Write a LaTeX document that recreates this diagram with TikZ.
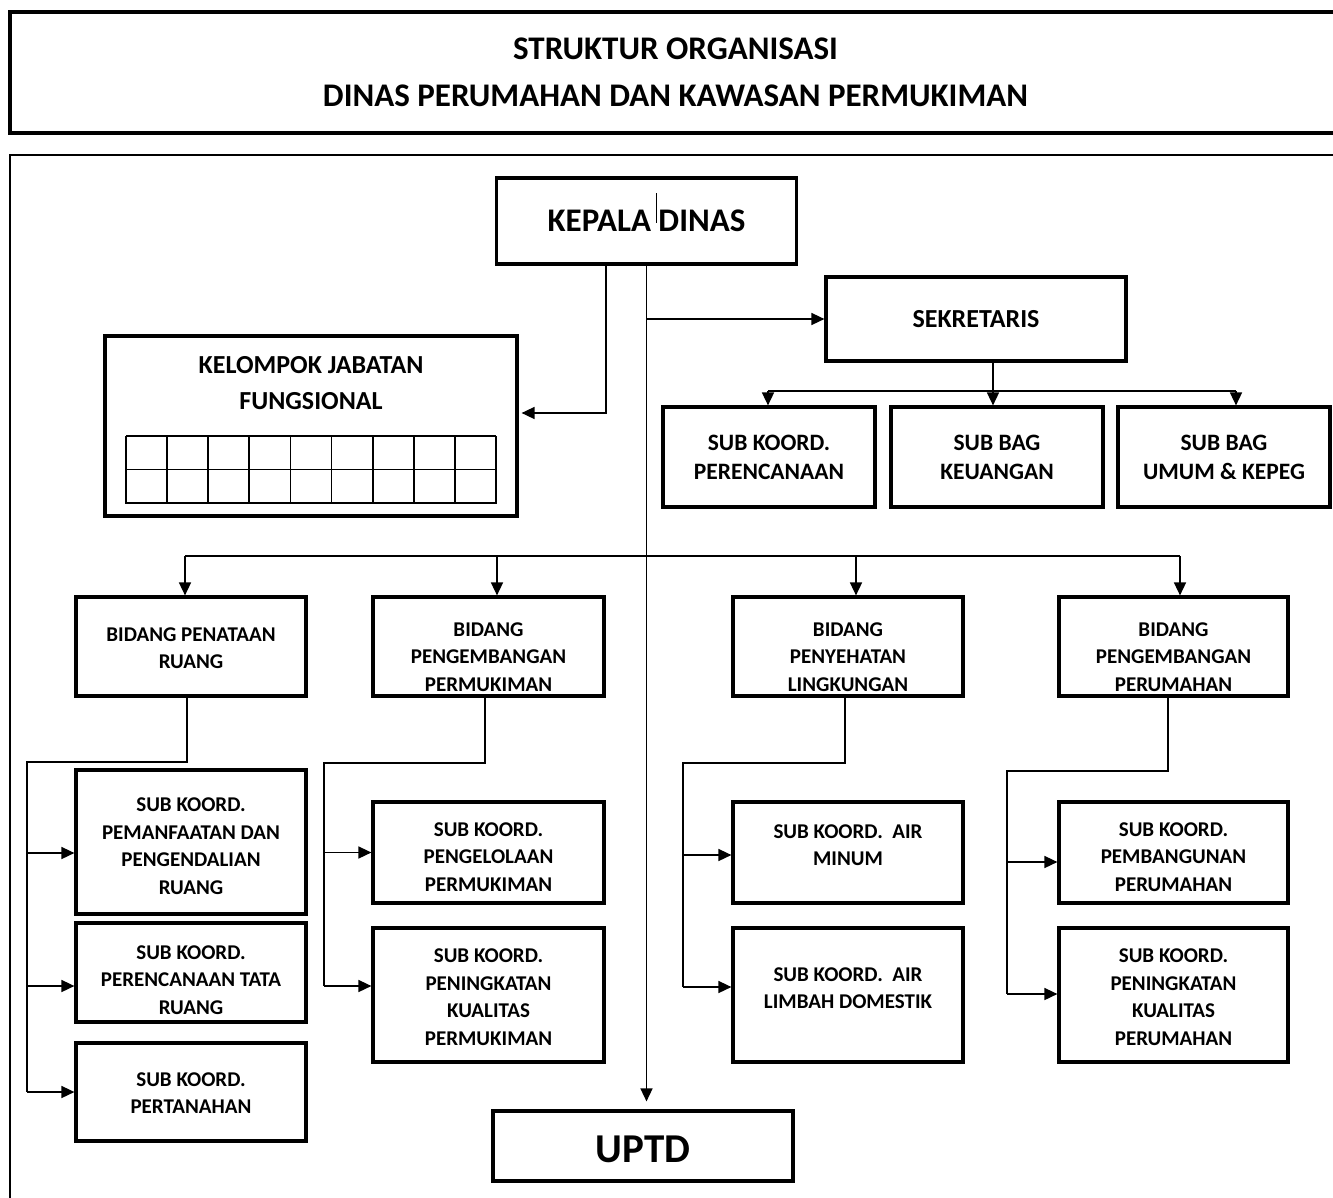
\documentclass[tikz,border=0pt]{standalone}
\usepackage{fontspec}
\setmainfont{Carlito}
\usetikzlibrary{arrows.meta}
\begin{document}
\begin{tikzpicture}[x=1pt,y=-1pt,
  box/.style={draw, line width=3.2pt, inner sep=0pt},
  txt/.style={align=center, inner sep=0pt, font=\bfseries\fontsize{21}{27.5}\selectfont},
  txtb/.style={align=center, inner sep=0pt, font=\bfseries\fontsize{23.5}{29}\selectfont},
  conn/.style={line width=1.6pt, -{Triangle[length=13pt,width=12pt]}},
  plain/.style={line width=1.6pt},
  gridline/.style={line width=1.7pt}]
\useasboundingbox (0,0) rectangle (1333,1197);
\clip (0,0) rectangle (1333,1197);
\fill[white] (0,0) rectangle (1333,1197);

% frames
\draw[line width=3.4pt] (10,12) rectangle (1345,133);
\node[align=center, inner sep=0pt, font=\bfseries\fontsize{33}{47}\selectfont] (title) at (675.5,72.5)
  {STRUKTUR ORGANISASI\\DINAS PERUMAHAN DAN KAWASAN PERMUKIMAN};
\draw[line width=2.6pt] (10,1215) -- (10,155) -- (1345,155);

% top level
\node[box, minimum width=300pt, minimum height=86pt, font=\bfseries\fontsize{33}{40}\selectfont] (kd) at (646.5,221) {KEPALA DINAS};
\draw[line width=0.9pt] (656,193) -- (656,223);
\node[box, minimum width=300pt, minimum height=84pt, font=\bfseries\fontsize{26}{32}\selectfont] (sek) at (976,319) {SEKRETARIS};

% kelompok jabatan fungsional
\node[box, minimum width=412pt, minimum height=180pt] (kjf) at (311,426) {};
\node[align=center, inner sep=0pt, font=\bfseries\fontsize{26}{36}\selectfont] (kjft) at (311,383) {KELOMPOK JABATAN\\FUNGSIONAL};
\foreach \i in {0,...,9} \draw[gridline] ({126+\i*41.11},436) -- ({126+\i*41.11},504);
\foreach \j in {436,469.5,503} \draw[gridline] (126,\j) -- (496,\j);

% sekretariat subs
\node[box, minimum width=212pt, minimum height=100pt] (sb1) at (769,457) {};
\node[txtb] (sb1t) at (769,457) {SUB KOORD.\\PERENCANAAN};
\node[box, minimum width=212pt, minimum height=100pt] (sb2) at (997,457) {};
\node[txtb] (sb2t) at (997,457) {SUB BAG\\KEUANGAN};
\node[box, minimum width=212pt, minimum height=100pt] (sb3) at (1224,457) {};
\node[txtb] (sb3t) at (1224,457) {SUB BAG\\UMUM \& KEPEG};

% bidang
\node[box, minimum width=230pt, minimum height=99pt] (b1) at (191,646.5) {};
\node[txt] (b1t) at (191,648) {BIDANG PENATAAN\\RUANG};
\node[box, minimum width=231pt, minimum height=99pt] (b2) at (488.5,646.5) {};
\node[txt] (b2t) at (488.5,657) {BIDANG\\PENGEMBANGAN\\PERMUKIMAN};
\node[box, minimum width=230pt, minimum height=99pt] (b3) at (848,646.5) {};
\node[txt] (b3t) at (848,657) {BIDANG\\PENYEHATAN\\LINGKUNGAN};
\node[box, minimum width=229pt, minimum height=99pt] (b4) at (1173.5,646.5) {};
\node[txt] (b4t) at (1173.5,657) {BIDANG\\PENGEMBANGAN\\PERUMAHAN};

% column 1
\node[box, minimum width=230pt, minimum height=144pt] (s11) at (191,842) {};
\node[txt] (s11t) at (191,846) {SUB KOORD.\\PEMANFAATAN DAN\\PENGENDALIAN\\RUANG};
\node[box, minimum width=230pt, minimum height=99pt] (s12) at (191,972.5) {};
\node[txt] (s12t) at (191,980) {SUB KOORD.\\PERENCANAAN TATA\\RUANG};
\node[box, minimum width=230pt, minimum height=98pt] (s13) at (191,1092) {};
\node[txt] (s13t) at (191,1093) {SUB KOORD.\\PERTANAHAN};

% column 2
\node[box, minimum width=231pt, minimum height=101pt] (s21) at (488.5,852.5) {};
\node[txt] (s21t) at (488.5,857) {SUB KOORD.\\PENGELOLAAN\\PERMUKIMAN};
\node[box, minimum width=231pt, minimum height=134pt] (s22) at (488.5,995) {};
\node[txt] (s22t) at (488.5,997) {SUB KOORD.\\PENINGKATAN\\KUALITAS\\PERMUKIMAN};

% column 3
\node[box, minimum width=230pt, minimum height=101pt] (s31) at (848,852.5) {};
\node[txt] (s31t) at (848,845) {SUB KOORD.~~AIR\\MINUM};
\node[box, minimum width=230pt, minimum height=134pt] (s32) at (848,995) {};
\node[txt] (s32t) at (848,988) {SUB KOORD.~~AIR\\LIMBAH DOMESTIK};

% column 4
\node[box, minimum width=229pt, minimum height=101pt] (s41) at (1173.5,852.5) {};
\node[txt] (s41t) at (1173.5,857) {SUB KOORD.\\PEMBANGUNAN\\PERUMAHAN};
\node[box, minimum width=229pt, minimum height=134pt] (s42) at (1173.5,995) {};
\node[txt] (s42t) at (1173.5,997) {SUB KOORD.\\PENINGKATAN\\KUALITAS\\PERUMAHAN};

% UPTD
\node[box, minimum width=300pt, minimum height=70pt] (uptd) at (643,1146) {};
\node[inner sep=0pt, font=\bfseries\fontsize{41}{48}\selectfont] (uptdt) at (643,1149.5) {UPTD};

% ---------- connectors ----------
\draw[conn, shorten >=8pt] (kd.south) -- (kd.south |- uptd.north);
\coordinate (kdl) at ([xshift=-40.5pt]kd.south);
\coordinate (kjfa) at ([yshift=13pt]kjf.east);
\draw[conn, shorten >=3pt] (kdl) |- (kjfa);
\draw[conn] (kd.south |- sek.west) -- (sek.west);

% sekretaris to subs
\coordinate (sbus) at (0,391);
\coordinate (sb1top) at ([xshift=-1pt]sb1.north);
\coordinate (sb2top) at ([xshift=-4pt]sb2.north);
\coordinate (sb3top) at ([xshift=12pt]sb3.north);
\draw[plain] (sb1top |- sbus) -- (sb3top |- sbus);
\draw[conn] (sb2top |- sek.south) -- (sb2top);
\draw[conn] (sb1top |- sbus) -- (sb1top);
\draw[conn] (sb3top |- sbus) -- (sb3top);

% bidang bus
\coordinate (bbus) at (0,556);
\coordinate (b1top) at ([xshift=-6pt]b1.north);
\coordinate (b2top) at ([xshift=8.5pt]b2.north);
\coordinate (b3top) at ([xshift=8pt]b3.north);
\coordinate (b4top) at ([xshift=6.5pt]b4.north);
\draw[plain] (b1top |- bbus) -- (b4top |- bbus);
\foreach \b in {b1top,b2top,b3top,b4top} \draw[conn] (\b |- bbus) -- (\b);

% column 1 connectors
\coordinate (b1bot) at ([xshift=-4pt]b1.south);
\coordinate (c1) at (27,762);
\coordinate (s11a) at ([yshift=-11pt]s11.west);
\coordinate (s12a) at ([yshift=-13.5pt]s12.west);
\coordinate (s13a) at (s13.west);
\draw[plain] (b1bot) |- (c1) -- (c1 |- s13a);
\draw[conn] (c1 |- s11a) -- (s11a);
\draw[conn] (c1 |- s12a) -- (s12a);
\draw[conn] (c1 |- s13a) -- (s13a);

% column 2 connectors
\coordinate (b2bot) at ([xshift=-3.5pt]b2.south);
\coordinate (c2) at (324,763);
\coordinate (s21a) at (s21.west);
\coordinate (s22a) at ([yshift=9pt]s22.west);
\draw[plain] (b2bot) |- (c2) -- (c2 |- s22a);
\draw[conn] (c2 |- s21a) -- (s21a);
\draw[conn] (c2 |- s22a) -- (s22a);

% column 3 connectors
\coordinate (b3bot) at ([xshift=-3pt]b3.south);
\coordinate (c3) at (683,763);
\coordinate (s31a) at ([yshift=-2.5pt]s31.west);
\coordinate (s32a) at ([yshift=8pt]s32.west);
\draw[plain] (b3bot) |- (c3) -- (c3 |- s32a);
\draw[conn] (c3 |- s31a) -- (s31a);
\draw[conn] (c3 |- s32a) -- (s32a);

% column 4 connectors
\coordinate (b4bot) at ([xshift=-5.5pt]b4.south);
\coordinate (c4) at (1007,771);
\coordinate (s41a) at ([yshift=-9.5pt]s41.west);
\coordinate (s42a) at ([yshift=1pt]s42.west);
\draw[plain] (b4bot) |- (c4) -- (c4 |- s42a);
\draw[conn] (c4 |- s41a) -- (s41a);
\draw[conn] (c4 |- s42a) -- (s42a);
\end{tikzpicture}
\end{document}
